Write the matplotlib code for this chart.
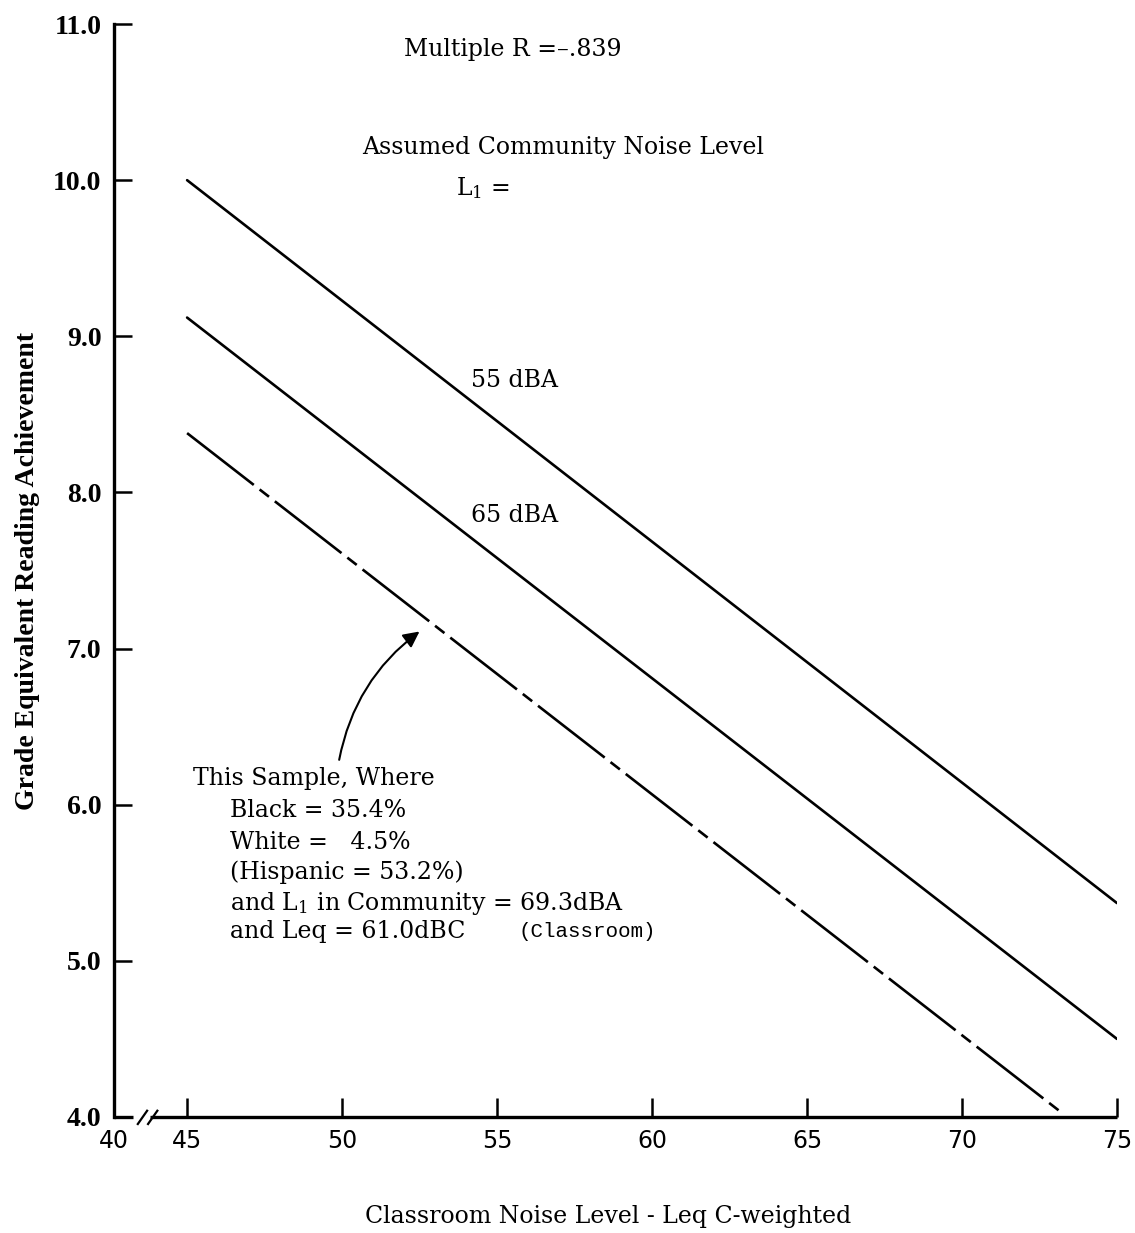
import matplotlib
matplotlib.use("Agg")
import matplotlib.pyplot as plt

plt.rcParams["font.family"] = ["DejaVu Serif"]
plt.rcParams["mathtext.fontset"] = "dejavuserif"

# Regression lines: grade equivalent reading achievement vs classroom Leq (dBC)
noise_x = [45, 75]
grade_55dba = [10.0, 5.37]
grade_65dba = [9.12, 4.50]
sample_x = [45, 73.2]
sample_grade = [8.38, 4.03]

x_ticks = [45, 50, 55, 60, 65, 70, 75]
x_tick_labels = ["45", "50", "55", "60", "65", "70", "75"]
y_ticks = [4.0, 5.0, 6.0, 7.0, 8.0, 9.0, 10.0, 11.0]
y_tick_labels = ["4.0", "5.0", "6.0", "7.0", "8.0", "9.0", "10.0", "11.0"]

# axis is broken between 40 and 45; "40" sits at the left edge of the plot
x_origin = 42.64

fig = plt.figure(figsize=(11.35, 12.33), dpi=100)
ax = fig.add_axes([0.1004, 0.0941, 0.8837, 0.8864])
ax.set_xlim(x_origin, 75)
ax.set_ylim(4.0, 11.0)

ink = "black"
ax.plot(noise_x, grade_55dba, color=ink, lw=1.9, solid_capstyle="round")
ax.plot(noise_x, grade_65dba, color=ink, lw=1.9, solid_capstyle="round")
ax.plot(sample_x, sample_grade, color=ink, lw=1.9,
        linestyle=(0, (32, 2.8, 4.5, 2.8)), dash_capstyle="butt")

# spines
for s in ("top", "right", "bottom"):
    ax.spines[s].set_visible(False)
ax.spines["left"].set_linewidth(2.4)

# bottom axis line with break marks
ax.plot([x_origin, 43.26], [4.0, 4.0], color=ink, lw=2.4, clip_on=False,
        solid_capstyle="butt")
ax.plot([43.8, 75], [4.0, 4.0], color=ink, lw=2.4, clip_on=False,
        solid_capstyle="butt")
for xc in (43.56, 43.89):
    ax.plot([xc - 0.15, xc + 0.15], [3.955, 4.04], color=ink, lw=1.6,
            clip_on=False)

ax.set_xticks([x_origin] + x_ticks)
ax.set_xticklabels(["40"] + x_tick_labels, family=["DejaVu Sans"],
                   fontsize=17)
ax.set_yticks(y_ticks)
ax.set_yticklabels(y_tick_labels, fontsize=20, fontweight="bold",
                   family=["Liberation Serif"])
ax.tick_params(axis="x", direction="in", length=14, width=1.8, pad=9)
ax.tick_params(axis="y", direction="in", length=13, width=1.8, pad=9)
ax.xaxis.get_major_ticks()[0].tick1line.set_visible(False)

ax.set_ylabel("Grade Equivalent Reading Achievement", fontsize=20,
              fontweight="bold", family=["Liberation Serif"])
ax.yaxis.set_label_coords(-0.0857, 0.5)
ax.yaxis.label.set_va("center")
ax.set_xlabel("Classroom Noise Level - Leq C-weighted", fontsize=17)
ax.xaxis.set_label_coords(0.4925, -0.0915)
ax.xaxis.label.set_va("center")

# text inside the plot
ax.text(51.99, 10.84, "Multiple R =\u2013.839", fontsize=17, va="center")
ax.text(50.66, 10.21, "Assumed Community Noise Level", fontsize=17,
        va="center")
ax.text(53.67, 9.95, r"L$_\mathrm{1}$ =", fontsize=17, va="center")
ax.text(54.16, 8.72, "55 dBA", fontsize=17, va="center")
ax.text(54.16, 7.85, "65 dBA", fontsize=17, va="center")

ax.text(45.19, 6.17, "This Sample, Where", fontsize=17, va="center")
block = ["Black = 35.4%", "White =   4.5%", "(Hispanic = 53.2%)",
         r"and L$_\mathrm{1}$ in Community = 69.3dBA", "and Leq = 61.0dBC"]
block_y = [5.96, 5.76, 5.57, 5.37, 5.19]
for txt, yy in zip(block, block_y):
    ax.text(46.39, yy, txt, fontsize=17, va="center")
ax.text(55.68, 5.19, "(Classroom)", fontsize=15, va="center",
        family=["Liberation Mono"])

ax.annotate("", xy=(52.57, 7.12), xytext=(49.89, 6.27),
            arrowprops=dict(arrowstyle="-|>", color=ink, lw=1.5,
                            mutation_scale=24,
                            connectionstyle="arc3,rad=-0.2"))

fig.savefig("out.png", dpi=100)
